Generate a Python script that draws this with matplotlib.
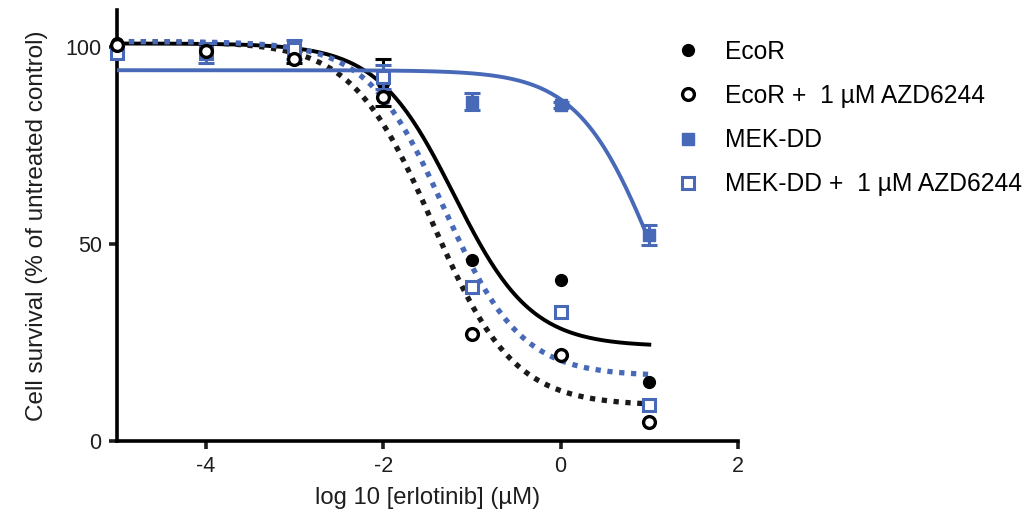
import numpy as np
import matplotlib
matplotlib.use("Agg")
import matplotlib.pyplot as plt
from matplotlib.lines import Line2D

plt.rcParams['font.family'] = ['Liberation Sans', 'DejaVu Sans']
plt.rcParams['axes.unicode_minus'] = False

# log10 erlotinib concentration (uM)
log_dose = [-5, -4, -3, -2, -1, 0, 1]

# cell survival, % of untreated control
ecor = [101.0, 99.5, 97.5, 91.0, 46.0, 40.8, 15.1]
ecor_err = [0, 0, 1.5, 6.0, 0, 0, 0]
ecor_azd = [100.5, 99.0, 97.0, 87.5, 27.1, 21.9, 4.8]
ecor_azd_err = [0, 0, 0, 0, 0, 0, 0]
mekdd = [98.7, 98.5, 99.5, 92.5, 86.2, 85.3, 52.3]
mekdd_err = [0, 0, 0, 0, 2.2, 0.8, 2.5]
mekdd_azd = [98.7, 98.5, 99.5, 92.5, 39.0, 32.8, 9.1]
mekdd_azd_err = [0, 2.5, 2.5, 3.0, 0, 0, 0]

# four-parameter logistic fits: (top, bottom, logIC50, hill)
fit_ecor = (101.0, 24.0, -1.20, 1.0)
fit_ecor_azd = (101.5, 9.0, -1.44, 0.95)
fit_mekdd = (94.2, 0.0, 1.07, 1.0)
fit_mekdd_azd = (101.5, 16.5, -1.31, 1.0)

labels = ["EcoR", "EcoR +  1 \u00b5M AZD6244", "MEK-DD", "MEK-DD +  1 \u00b5M AZD6244"]

BLUE = "#4769B8"
BLACK = "#000000"
TEXT = "#1e1e1e"


def four_pl(x, top, bottom, logic50, hill):
    return bottom + (top - bottom) / (1.0 + 10 ** ((x - logic50) * hill))


fig = plt.figure(figsize=(10.32, 5.21), dpi=100)
ax = fig.add_axes([117 / 1032, 1 - 441 / 521, 621 / 1032, 431 / 521])

xs = np.linspace(-5, 1, 300)
dot = (0, (1.0, 1.25))
ax.plot(xs, four_pl(xs, *fit_ecor), color=BLACK, lw=2.8, zorder=3)
ax.plot(xs, four_pl(xs, *fit_ecor_azd), color="#1a1a1a", lw=3.8, ls=dot,
        dash_capstyle='butt', zorder=3)
ax.plot(xs, four_pl(xs, *fit_mekdd_azd), color=BLUE, lw=3.8, ls=dot,
        dash_capstyle='butt', zorder=3)
ax.plot(xs, four_pl(xs, *fit_mekdd), color=BLUE, lw=2.8, zorder=3)

ebkw = dict(ls='none', capsize=5.5, capthick=2.2, elinewidth=2.2, clip_on=False)


def nz(e):
    return [v if v > 0 else np.nan for v in e]


ax.errorbar(log_dose, mekdd, yerr=nz(mekdd_err), fmt='s', color=BLUE, ms=8,
            mec=BLUE, zorder=4, **ebkw)
ax.errorbar(log_dose, ecor, yerr=nz(ecor_err), fmt='o', color=BLACK, ms=8.5,
            zorder=5, **ebkw)
ax.errorbar(log_dose, mekdd_azd, yerr=nz(mekdd_azd_err), fmt='s', color=BLUE,
            mfc='white', mec=BLUE, mew=2.2, ms=9, zorder=6, **ebkw)
ax.errorbar(log_dose, ecor_azd, yerr=nz(ecor_azd_err), fmt='o', color=BLACK,
            mfc='white', mew=2.4, ms=8.5, zorder=6, **ebkw)

ax.set_xlim(-5, 2)
ax.set_ylim(0, 109.5)
ax.set_xticks([-4, -2, 0, 2])
ax.set_yticks([0, 50, 100])
ax.spines['top'].set_visible(False)
ax.spines['right'].set_visible(False)
for s in ('left', 'bottom'):
    ax.spines[s].set_linewidth(2.6)
ax.tick_params(width=2.6, length=6, labelsize=15.5, pad=5, colors=TEXT,
               labelcolor=TEXT)
ax.set_xlabel("log 10 [erlotinib] (\u00b5M)", fontsize=17.2, color=TEXT, labelpad=7)
ax.set_ylabel("Cell survival (% of untreated control)", fontsize=17.5, color=TEXT,
              labelpad=13)

handles = [
    Line2D([], [], marker='o', ls='none', color=BLACK, ms=8.5),
    Line2D([], [], marker='o', ls='none', color=BLACK, mfc='white', mew=2.4, ms=8.5),
    Line2D([], [], marker='s', ls='none', color=BLUE, ms=8),
    Line2D([], [], marker='s', ls='none', color=BLUE, mfc='white', mew=2.2, ms=9),
]
fig.legend(handles, labels, loc='upper left', bbox_to_anchor=(666 / 1032, 1 - 30 / 521),
           frameon=False, fontsize=17.7, labelspacing=0.82, handlelength=1.0,
           handletextpad=1.0, borderaxespad=0)

fig.savefig("out.png", dpi=100)
